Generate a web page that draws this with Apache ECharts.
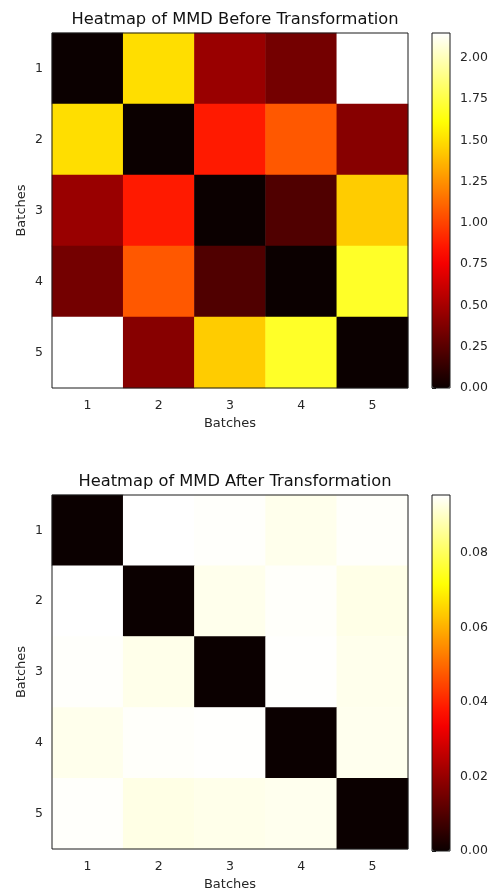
<!DOCTYPE html>
<html>
<head>
<meta charset="utf-8">
<script src="https://cdn.jsdelivr.net/npm/echarts@6/dist/echarts.min.js"></script>
<style>
  html, body { margin: 0; padding: 0; background: #fff; }
  #main { width: 492px; height: 892px; }
</style>
</head>
<body>
<div id="main"></div>
<script>
// batches on both axes
var batches = ['1', '2', '3', '4', '5'];

// MMD before transformation (row = y batch, col = x batch)
var before = [
  [0.00, 1.50, 0.46, 0.34, 2.15],
  [1.50, 0.00, 0.87, 1.07, 0.40],
  [0.46, 0.87, 0.00, 0.22, 1.44],
  [0.34, 1.07, 0.22, 0.00, 1.69],
  [2.15, 0.40, 1.44, 1.69, 0.00]
];
var beforeMax = 2.15;
var beforeTicks = [0, 0.25, 0.5, 0.75, 1.0, 1.25, 1.5, 1.75, 2.0];

// MMD after transformation
var after = [
  [0.0000, 0.0955, 0.0951, 0.0937, 0.0950],
  [0.0955, 0.0000, 0.0937, 0.0950, 0.0932],
  [0.0951, 0.0935, 0.0000, 0.0953, 0.0937],
  [0.0937, 0.0950, 0.0953, 0.0000, 0.0939],
  [0.0951, 0.0930, 0.0935, 0.0939, 0.0000]
];
var afterMax = 0.0955;
var afterTicks = [0, 0.02, 0.04, 0.06, 0.08];

// matplotlib "hot" colormap, sampled
var hot = ['#0b0000', '#2c0000', '#4e0000', '#6f0000', '#900000', '#b20000', '#d30000', '#f50000',
  '#ff1700', '#ff3900', '#ff5a00', '#ff7c00', '#ff9d00', '#ffbf00', '#ffe000',
  '#ffff04', '#ffff36', '#ffff68', '#ffff9b', '#ffffcd', '#ffffff'];

var font = 'DejaVu Sans';
var txt = '#262626';

function toCells(m) {
  var out = [];
  for (var r = 0; r < m.length; r++) {
    for (var c = 0; c < m[r].length; c++) {
      out.push([c, r, m[r][c]]);
    }
  }
  return out;
}

// one heatmap panel + its colorbar
var panels = [
  { title: 'Heatmap of MMD Before Transformation', top: 33, h: 355, data: before, max: beforeMax, ticks: beforeTicks },
  { title: 'Heatmap of MMD After Transformation', top: 495, h: 356, data: after, max: afterMax, ticks: afterTicks }
];

var option = {
  animation: false,
  backgroundColor: '#fff',
  textStyle: { fontFamily: font },
  title: [], grid: [], xAxis: [], yAxis: [], series: [], visualMap: []
};

panels.forEach(function (p, i) {
  option.title.push({
    text: p.title, left: 230, top: p.top - 26, textAlign: 'center',
    textStyle: { fontFamily: font, fontSize: 16.3, fontWeight: 'normal', color: '#111' }
  });
  // heatmap grid
  option.grid.push({ left: 52, top: p.top, width: 356, height: p.h, show: true, borderColor: '#1a1a1a', borderWidth: 1, backgroundColor: 'transparent', z: 5 });
  // colorbar grid
  option.grid.push({ left: 432, top: p.top, width: 18, height: p.h, show: true, borderColor: '#1a1a1a', borderWidth: 1, backgroundColor: 'transparent', z: 5 });

  option.xAxis.push({
    type: 'category', gridIndex: i * 2, data: batches,
    name: 'Batches', nameLocation: 'middle', nameGap: 29, nameMoveOverlap: false,
    nameTextStyle: { fontFamily: font, fontSize: 13, color: txt },
    axisLine: { show: false },
    axisTick: { alignWithLabel: true, length: 4, lineStyle: { color: '#1a1a1a' } },
    axisLabel: { margin: 11, fontSize: 12.5, color: txt, fontFamily: font },
    splitLine: { show: false }
  });
  option.yAxis.push({
    type: 'category', gridIndex: i * 2, data: batches, inverse: true,
    name: 'Batches', nameLocation: 'middle', nameGap: 24, nameMoveOverlap: false,
    nameTextStyle: { fontFamily: font, fontSize: 13, color: txt },
    axisLine: { show: false },
    axisTick: { alignWithLabel: true, length: 4, lineStyle: { color: '#1a1a1a' } },
    axisLabel: { margin: 9, fontSize: 12.5, color: txt, fontFamily: font },
    splitLine: { show: false }
  });
  option.xAxis.push({ type: 'value', gridIndex: i * 2 + 1, show: false, min: 0, max: 1 });
  option.yAxis.push({
    type: 'value', gridIndex: i * 2 + 1, position: 'right', min: 0, max: p.max,
    axisLine: { show: false },
    axisTick: { show: true, length: 4, customValues: p.ticks, lineStyle: { color: '#1a1a1a' } },
    axisLabel: {
      margin: 10, fontSize: 12.5, color: txt, fontFamily: font, customValues: p.ticks,
      formatter: function (v) { return v.toFixed(2); }
    },
    splitLine: { show: false }
  });

  option.series.push({
    type: 'heatmap', xAxisIndex: i * 2, yAxisIndex: i * 2,
    data: toCells(p.data),
    itemStyle: { borderWidth: 0 },
    emphasis: { disabled: true }
  });

  option.visualMap.push({
    type: 'continuous', seriesIndex: i, min: 0, max: p.max,
    calculable: false, hoverLink: false, orient: 'vertical',
    left: 432, top: p.top, itemWidth: 18, itemHeight: p.h,
    padding: 0, text: null, showLabel: false,
    inRange: { color: hot }
  });
});

var chart = echarts.init(document.getElementById('main'), null, { renderer: 'canvas' });
chart.setOption(option);
</script>
</body>
</html>
